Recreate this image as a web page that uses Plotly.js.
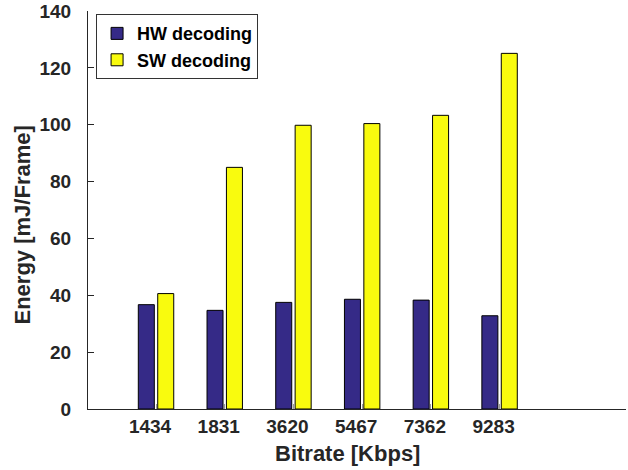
<!DOCTYPE html>
<html>
<head>
<meta charset="utf-8">
<script src="https://cdn.plot.ly/plotly-3.0.1.min.js"></script>
<style>
  html, body { margin: 0; padding: 0; background: #ffffff; }
  #chart { width: 628px; height: 470px; }
</style>
</head>
<body>
<div id="chart"></div>
<script>
const categories = ['1434', '1831', '3620', '5467', '7362', '9283'];
const hwDecoding = [36.7, 34.7, 37.5, 38.6, 38.3, 32.8];
const swDecoding = [40.6, 85.0, 99.8, 100.4, 103.3, 125.1];
const yTicks = [0, 20, 40, 60, 80, 100, 120, 140];
const xTitle = 'Bitrate [Kbps]';
const yTitle = 'Energy [mJ/Frame]';

const FONT = 'Liberation Sans, Arial, Helvetica, sans-serif';
const TXT = '#262626';

const traces = [
  {
    type: 'bar', name: 'HW decoding', x: categories, y: hwDecoding,
    marker: { color: '#352A87', line: { color: '#000000', width: 1 } }
  },
  {
    type: 'bar', name: 'SW decoding', x: categories, y: swDecoding,
    marker: { color: '#F9FB0E', line: { color: '#000000', width: 1 } }
  }
];

const layout = {
  width: 628, height: 470,
  margin: { l: 88, r: 2, t: 11, b: 61 },
  paper_bgcolor: '#ffffff', plot_bgcolor: '#ffffff',
  barmode: 'group', bargap: 0.435, bargroupgap: 0.175,
  font: { family: FONT, color: TXT, weight: 'bold' },
  showlegend: true,
  legend: {
    x: 0.015, y: 0.992, xanchor: 'left', yanchor: 'top',
    bgcolor: '#ffffff', bordercolor: '#333333', borderwidth: 1,
    font: { family: FONT, size: 18, color: '#000000', weight: 'bold' },
    tracegroupgap: 0, itemwidth: 30, entrywidth: 149
  },
  xaxis: {
    type: 'category', range: [-0.99, 6.84],
    showline: true, linecolor: TXT, linewidth: 1, mirror: false,
    showgrid: false, zeroline: false,
    ticks: 'inside', ticklen: 5, tickcolor: '#999999', tickwidth: 1,
    tickfont: { family: FONT, size: 19, color: TXT, weight: 'bold' },
    ticklabelshift: -6
  },
  yaxis: {
    range: [0, 140], tickvals: yTicks,
    showline: true, linecolor: TXT, linewidth: 1, mirror: false,
    showgrid: false, zeroline: false,
    ticks: 'inside', ticklen: 6, tickcolor: TXT, tickwidth: 1,
    tickfont: { family: FONT, size: 19, color: TXT, weight: 'bold' },
    ticklabelstandoff: 12
  },
  annotations: [
    {
      text: xTitle, xref: 'paper', yref: 'paper', x: 0.483, y: -0.113,
      xanchor: 'center', yanchor: 'middle', showarrow: false,
      font: { family: FONT, size: 22, color: TXT, weight: 'bold' }
    },
    {
      text: yTitle, xref: 'paper', yref: 'paper', x: -0.122, y: 0.462,
      xanchor: 'center', yanchor: 'middle', showarrow: false, textangle: -90,
      font: { family: FONT, size: 22, color: TXT, weight: 'bold' }
    }
  ]
};

Plotly.newPlot('chart', traces, layout, { displayModeBar: false, staticPlot: true });
</script>
</body>
</html>
